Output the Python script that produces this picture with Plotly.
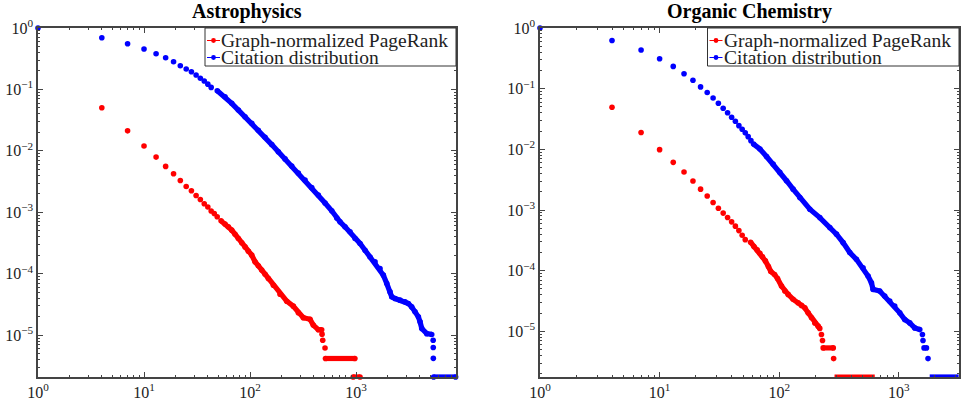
import plotly.graph_objects as go

# ---------------- tick labels ----------------
x_tickvals = [1, 10, 100, 1000]
x_ticktext = ["10<sup>0</sup>", "10<sup>1</sup>", "10<sup>2</sup>", "10<sup>3</sup>"]
y_tickvals = [1, 0.1, 0.01, 0.001, 1e-4, 1e-5]
y_ticktext = ["10<sup>0</sup>", "10<sup>\u22121</sup>", "10<sup>\u22122</sup>",
              "10<sup>\u22123</sup>", "10<sup>\u22124</sup>", "10<sup>\u22125</sup>"]

titles = ["Astrophysics", "Organic Chemistry"]
series_names = ["Graph-normalized PageRank", "Citation distribution"]

# ---------------- Astrophysics : citation distribution ----------------
astro_cit_x = [1, 4, 7, 10, 13, 16, 19, 22, 25, 28, 31, 34, 37, 40, 43]
astro_cit_y = [1.0, 0.695, 0.555, 0.455, 0.381, 0.328, 0.283, 0.243, 0.215, 0.194,
               0.172, 0.152, 0.137, 0.122, 0.108]
astro_cit_dense_x = [49.1, 58.1, 67.2, 77.6, 89.7, 103.8, 119.7, 138.7, 160.2, 184.9,
                     213.9, 247.2, 285.5, 330.4, 382, 440.6, 510, 590, 658, 706,
                     787, 878, 979, 1091, 1216, 1355, 1511, 1683, 1811, 1950,
                     2094, 2173, 2334, 2600, 2899, 3112, 3350, 3602, 3873, 4018,
                     4169, 4645, 5176]
astro_cit_dense_y = [0.0949, 0.0760, 0.0594, 0.0461, 0.0359, 0.0281, 0.0216, 0.0166, 0.01267, 0.00966,
                     0.00741, 0.00565, 0.00435, 0.00334, 0.00252, 0.00191, 0.00142, 0.00106, 0.000805, 0.000700,
                     0.000580, 0.000481, 0.000376, 0.000311, 0.000242, 0.000188, 0.000156, 0.000122, 9.49e-5, 6.95e-5,
                     5.07e-5, 4.21e-5, 3.96e-5, 3.72e-5, 3.49e-5, 3.28e-5, 2.89e-5, 2.40e-5, 1.99e-5, 1.65e-5,
                     1.29e-5, 1.06e-5, 1.03e-5]
astro_cit_tail_x = [5340, 5350, 5360]
astro_cit_tail_y = [8.3e-6, 6.3e-6, 4.2e-6]
astro_cit_floor_x = [5400, 8700]          # zero counts, drawn on the lower axis limit
astro_floor = 2.09e-6
astro_cit_floor_y = [astro_floor, astro_floor]

# ---------------- Astrophysics : PageRank ----------------
astro_pr_x = [4, 7, 10, 13, 16, 19, 22, 25, 28, 31, 34, 37, 40, 43, 46, 49]
astro_pr_y = [0.0504, 0.0212, 0.0120, 0.00792, 0.00559, 0.00424, 0.00330, 0.00264, 0.00224, 0.00188,
              0.00162, 0.00138, 0.00122, 0.00105, 0.000959, 0.000846]
astro_pr_dense_x = [53.3, 58.1, 62.4, 67.2, 72.2, 77.6, 83.5, 89.7, 96.4, 103.8,
                    111.5, 119.7, 128.8, 138.7, 148.9, 166.0, 191.9, 222, 256, 285.6,
                    318.4, 368, 395, 441, 474]
astro_pr_dense_y = [0.000727, 0.000643, 0.000581, 0.000513, 0.000441, 0.000376, 0.000319, 0.000274, 0.000233, 0.000201,
                    0.000157, 0.000135, 0.000115, 9.85e-5, 8.38e-5, 6.52e-5, 4.65e-5, 3.58e-5, 2.97e-5, 2.32e-5,
                    1.93e-5, 1.82e-5, 1.46e-5, 1.23e-5, 1.23e-5]
astro_pr_tail_x = [478, 485, 510]
astro_pr_tail_y = [1.04e-5, 8.30e-6, 6.21e-6]
astro_pr_flat_x = [515, 975]
astro_pr_flat_y = [4.18e-6, 4.18e-6]
astro_pr_floor_x = [940, 1090]
astro_pr_floor_y = [astro_floor, astro_floor]

# ---------------- Organic Chemistry : citation distribution ----------------
orgchem_cit_x = [1, 4, 7, 10, 13, 16, 19, 22, 25, 28, 31, 34, 37, 40, 43, 46, 49, 52, 55, 58]
orgchem_cit_y = [1.0, 0.621, 0.433, 0.312, 0.233, 0.176, 0.138, 0.107, 0.0865, 0.0702,
                 0.0576, 0.0476, 0.0400, 0.0338, 0.0290, 0.0246, 0.0214, 0.0187, 0.0162, 0.0139]
orgchem_cit_dense_x = [61, 68.9, 78.3, 88.9, 101.2, 115.1, 130.6, 148.6, 180.3, 218.3,
                       264.7, 301, 342, 389, 442, 502, 553, 590, 609, 692,
                       762, 839, 924, 1018, 1120, 1234, 1358, 1496]
orgchem_cit_dense_y = [0.0122, 0.01016, 0.00763, 0.00574, 0.00417, 0.00304, 0.00221, 0.00161, 0.00103, 0.000751,
                       0.000514, 0.000400, 0.000290, 0.000199, 0.000154, 0.000112, 8.17e-5, 6.33e-5, 4.93e-5, 4.62e-5,
                       3.82e-5, 3.16e-5, 2.61e-5, 2.02e-5, 1.57e-5, 1.38e-5, 1.14e-5, 1.07e-5]
orgchem_cit_tail_x = [1575, 1592, 1625, 1702, 1754]
orgchem_cit_tail_y = [8.89e-6, 7.08e-6, 5.34e-6, 5.34e-6, 3.56e-6]
orgchem_floor = 1.77e-6
orgchem_cit_floor_x = [1812, 3163]
orgchem_cit_floor_y = [orgchem_floor, orgchem_floor]

# ---------------- Organic Chemistry : PageRank ----------------
orgchem_pr_x = [4, 7, 10, 13, 16, 19, 22, 25, 28, 31, 34, 37, 40, 43, 46, 49, 52]
orgchem_pr_y = [0.0494, 0.0189, 0.00989, 0.00610, 0.00423, 0.00300, 0.00221, 0.00170, 0.00133, 0.00107,
                0.000889, 0.000752, 0.000638, 0.000542, 0.000458, 0.000385, 0.000325]
orgchem_pr_dense_x = [57.6, 61.4, 65.4, 68.9, 72.5, 76.6, 81.2, 85.1, 91.4, 96.8,
                      104.5, 111.4, 118.7, 130.6, 143.8, 153.5, 163.6, 174.3, 186.2, 198.3,
                      211.4, 218.3]
orgchem_pr_dense_y = [0.000295, 0.000251, 0.000220, 0.000194, 0.000170, 0.000145, 0.000117, 9.70e-5, 8.65e-5, 7.43e-5,
                      5.58e-5, 4.62e-5, 4.07e-5, 3.37e-5, 2.96e-5, 2.68e-5, 2.45e-5, 2.02e-5, 1.67e-5, 1.38e-5,
                      1.22e-5, 1.12e-5]
orgchem_pr_tail_x = [225.4, 230.0, 285]
orgchem_pr_tail_y = [8.89e-6, 7.08e-6, 3.56e-6]
orgchem_pr_flat_x = [233, 283]
orgchem_pr_flat_y = [5.34e-6, 5.34e-6]
orgchem_pr_floor_x = [290, 629]
orgchem_pr_floor_y = [orgchem_floor, orgchem_floor]

RED = "#ff0000"
BLUE = "#0000ff"
MS = 5.6
LW = 5.2
SERIF = "Liberation Serif"
FRAME = "#444444"
W, H = 961, 402

fig = go.Figure()


def add_pts(x, y, color, xa, ya, dense=False):
    fig.add_trace(go.Scatter(
        x=x, y=y, xaxis=xa, yaxis=ya, showlegend=False, cliponaxis=False,
        mode="lines+markers" if dense else "markers",
        marker=dict(color=color, size=MS, line=dict(width=0)),
        line=dict(color=color, width=LW), hoverinfo="x+y"))


# Astrophysics panel
add_pts(astro_pr_x, astro_pr_y, RED, "x", "y")
add_pts(astro_pr_dense_x, astro_pr_dense_y, RED, "x", "y", dense=True)
add_pts(astro_pr_tail_x, astro_pr_tail_y, RED, "x", "y")
add_pts(astro_pr_flat_x, astro_pr_flat_y, RED, "x", "y", dense=True)
add_pts(astro_pr_floor_x, astro_pr_floor_y, RED, "x", "y", dense=True)
add_pts(astro_cit_x, astro_cit_y, BLUE, "x", "y")
add_pts(astro_cit_dense_x, astro_cit_dense_y, BLUE, "x", "y", dense=True)
add_pts(astro_cit_tail_x, astro_cit_tail_y, BLUE, "x", "y")
add_pts(astro_cit_floor_x, astro_cit_floor_y, BLUE, "x", "y", dense=True)

# Organic Chemistry panel
add_pts(orgchem_pr_x, orgchem_pr_y, RED, "x2", "y2")
add_pts(orgchem_pr_dense_x, orgchem_pr_dense_y, RED, "x2", "y2", dense=True)
add_pts(orgchem_pr_tail_x, orgchem_pr_tail_y, RED, "x2", "y2")
add_pts(orgchem_pr_flat_x, orgchem_pr_flat_y, RED, "x2", "y2", dense=True)
add_pts(orgchem_pr_floor_x, orgchem_pr_floor_y, RED, "x2", "y2", dense=True)
add_pts(orgchem_cit_x, orgchem_cit_y, BLUE, "x2", "y2")
add_pts(orgchem_cit_dense_x, orgchem_cit_dense_y, BLUE, "x2", "y2", dense=True)
add_pts(orgchem_cit_tail_x, orgchem_cit_tail_y, BLUE, "x2", "y2")
add_pts(orgchem_cit_floor_x, orgchem_cit_floor_y, BLUE, "x2", "y2", dense=True)


def axis(rng, domain, tickvals, ticktext, anchor):
    return dict(type="log", range=rng, domain=domain, anchor=anchor, automargin=False,
                tickmode="array", tickvals=tickvals, ticktext=ticktext,
                showline=True, linecolor=FRAME, linewidth=1.5, mirror="allticks",
                ticks="inside", ticklen=5, tickwidth=1, tickcolor=FRAME,
                showgrid=False, zeroline=False,
                tickfont=dict(family=SERIF, size=16, color="#222222"),
                minor=dict(ticks="inside", ticklen=2.5, tickwidth=0.8, tickcolor=FRAME,
                           dtick="D1", showgrid=False))


def px_x(p):
    return p / W


def px_y(p):
    return 1 - p / H


dom_y = [px_y(377), px_y(28)]
dom_x1 = [px_x(38), px_x(456)]
dom_x2 = [px_x(540), px_x(959)]

# ---- legend boxes (one per panel, matplotlib-style compact legend) ----
shapes = []
annotations = []
ROWS = (40.5, 57.5)
for left, right in ((205, 456), (707.5, 959)):
    shapes.append(dict(type="rect", xref="paper", yref="paper", layer="above",
                       x0=px_x(left), x1=px_x(right), y0=px_y(66), y1=px_y(28),
                       line=dict(color="#333333", width=1), fillcolor="white"))
    for row_y, color in zip(ROWS, (RED, BLUE)):
        shapes.append(dict(type="line", xref="paper", yref="paper", layer="above",
                           x0=px_x(left + 2), x1=px_x(left + 15), y0=px_y(row_y), y1=px_y(row_y),
                           line=dict(color=color, width=1)))
        cx = left + 8.5
        shapes.append(dict(type="circle", xref="paper", yref="paper", layer="above",
                           x0=px_x(cx - 2.4), x1=px_x(cx + 2.4), y0=px_y(row_y + 2.4), y1=px_y(row_y - 2.4),
                           line=dict(color=color, width=0), fillcolor=color))
    # one two-line text; the small base font sets the tight line spacing of the original
    legend_text = "<br>".join('<span style="font-size:19.5px">%s</span>' % n for n in series_names)
    annotations.append(dict(text=legend_text, x=px_x(left + 15), y=px_y(sum(ROWS) / 2 - 0.5),
                            xref="paper", yref="paper", xanchor="left", yanchor="middle",
                            align="left", showarrow=False, borderpad=0,
                            font=dict(family=SERIF, size=13, color="#222222")))

for title, dom in zip(titles, (dom_x1, dom_x2)):
    annotations.append(dict(text="<b>" + title + "</b>", x=sum(dom) / 2, y=px_y(12),
                            xref="paper", yref="paper", xanchor="center", yanchor="middle",
                            showarrow=False, font=dict(family=SERIF, size=20, color="black")))

fig.update_layout(
    width=W, height=H, margin=dict(l=0, r=0, t=0, b=0, autoexpand=False),
    paper_bgcolor="white", plot_bgcolor="white",
    xaxis=axis([0, 3.943], dom_x1, x_tickvals, x_ticktext, "y"),
    yaxis=axis([-5.68, 0], dom_y, y_tickvals, y_ticktext, "x"),
    xaxis2=axis([0, 3.503], dom_x2, x_tickvals, x_ticktext, "y2"),
    yaxis2=axis([-5.752, 0], dom_y, y_tickvals, y_ticktext, "x2"),
    shapes=shapes,
    annotations=annotations,
    showlegend=False,
)

# remove the browser's default 8 px body margin so the figure fills the window
fig.write_html("out.html", config={"displayModeBar": False},
               post_script="document.body.style.margin='0';document.body.style.overflow='hidden';")
